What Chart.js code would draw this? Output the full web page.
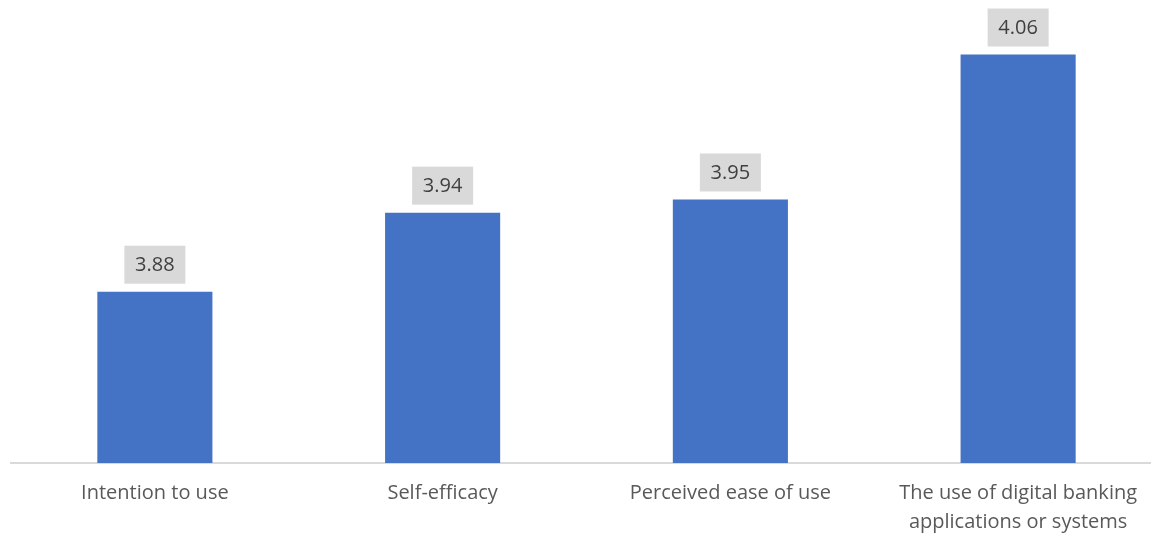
<!DOCTYPE html>
<html>
<head>
<meta charset="utf-8">
<script src="https://cdn.jsdelivr.net/npm/chart.js@4/dist/chart.umd.min.js"></script>
<style>
  html, body { margin: 0; padding: 0; background: #fff; overflow: hidden; }
  #wrap { width: 1162px; height: 536px; }
</style>
</head>
<body>
<div id="wrap"><canvas id="myChart"></canvas></div>
<script>
var categories = [
    "Intention to use",
    "Self-efficacy",
    "Perceived ease of use",
    ["The use of digital banking", "applications or systems"],
];
var scores = [3.88, 3.94, 3.95, 4.06];

// grey boxed value labels above bars
var boxLabels = {
    id: "boxLabels",
    afterDatasetsDraw: function (chart) {
        var ctx = chart.ctx;
        var meta = chart.getDatasetMeta(0);
        ctx.save();
        ctx.font = "20px 'Open Sans', sans-serif";
        ctx.textAlign = "center";
        ctx.textBaseline = "middle";
        meta.data.forEach(function (bar, i) {
            var txt = scores[i].toFixed(2);
            var w = 61, h = 38;
            var cy = bar.y - 8 - h / 2;
            ctx.fillStyle = "#d9d9d9";
            ctx.fillRect(bar.x - w / 2, cy - h / 2, w, h);
            ctx.fillStyle = "#404040";
            ctx.fillText(txt, bar.x, cy + 1);
        });
        ctx.restore();
    },
};

document.addEventListener("DOMContentLoaded", function () {
    var ctx = document.getElementById("myChart").getContext("2d");
    new Chart(ctx, {
        type: "bar",
        data: {
            labels: categories,
            datasets: [
                {
                    data: scores,
                    backgroundColor: "#4472c4",
                    barPercentage: 0.4,
                    categoryPercentage: 1,
                },
            ],
        },
        options: {
            responsive: true,
            maintainAspectRatio: false,
            animation: false,
            layout: { padding: { left: 11, right: 0, top: 15, bottom: 0 } },
            plugins: {
                legend: { display: false },
                tooltip: { enabled: false },
            },
            scales: {
                y: {
                    display: false,
                    min: 3.75,
                    max: 4.09,
                },
                x: {
                    grid: { display: false, drawTicks: false },
                    border: { color: "#d9d9d9", width: 2 },
                    ticks: {
                        color: "#595959",
                        font: { family: "'Open Sans', sans-serif", size: 20, lineHeight: 1.45 },
                        padding: 16,
                        maxRotation: 0,
                        autoSkip: false,
                    },
                    afterFit: function (scale) {
                        scale.height = 73;
                    },
                },
            },
        },
        plugins: [boxLabels],
    });
});
</script>
</body>
</html>
